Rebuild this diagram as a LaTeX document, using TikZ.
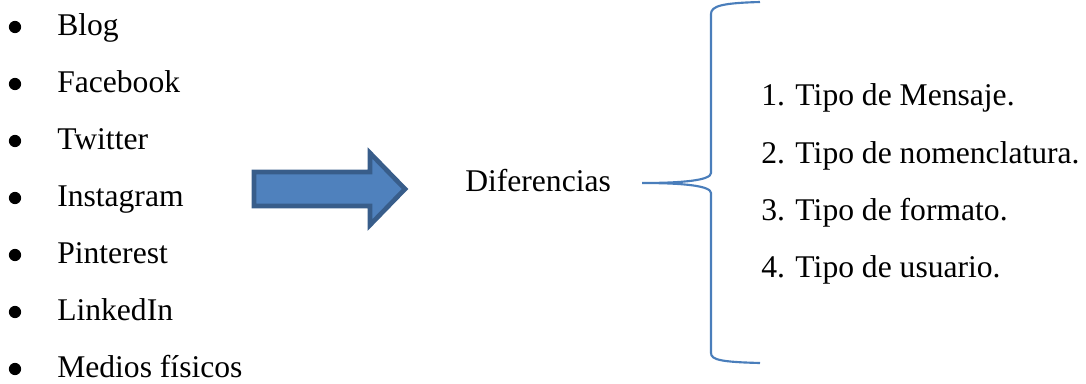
\documentclass[tikz,border=0pt]{standalone}
\usepackage{fontspec}
\setmainfont{Liberation Serif}
\definecolor{arrowfill}{HTML}{4F81BD}
\definecolor{arrowline}{HTML}{385D8A}
\definecolor{braceline}{HTML}{4A7EBB}
\tikzset{
  item/.style={anchor=base west, inner sep=0pt, font=\fontsize{23.7}{28}\selectfont},
  dot/.style={fill=black},
}
\begin{document}
\begin{tikzpicture}[x=0.75pt, y=-0.75pt]
\useasboundingbox (0,0) rectangle (1086,383);
%list
	\foreach \y/\name/\txt in {35/blog/Blog, 92/facebook/Facebook, 149/twitter/Twitter, 206/instagram/Instagram, 263/pinterest/Pinterest, 320/linkedin/LinkedIn, 377/medios/Medios físicos}{
		\fill[dot] (15, \y - 8) circle (4.6pt);
		\node[item] (\name) at (57, \y) {\txt};
	}

%arrow
	\draw[arrowline, fill=arrowfill, line width=3.5pt, line join=miter]
		(254, 172) -- (370, 172) -- (370, 153) -- (405, 189) -- (370, 225) -- (370, 206) -- (254, 206) -- cycle;

%middle
	\node[item] (dif) at (465, 191) {Diferencias};

%brace
	\draw[braceline, line width=1.6pt]
		(760, 2) .. controls (722, 3) and (711, 6) .. (711, 14) -- (711, 173)
		.. controls (711, 180) and (685, 183) .. (642, 183)
		.. controls (685, 183) and (711, 186) .. (711, 193) -- (711, 353)
		.. controls (711, 360) and (722, 362) .. (760, 363);

%types
	\foreach \y/\name/\txt in {105/t1/1. Tipo de Mensaje., 163/t2/2. Tipo de nomenclatura., 220/t3/3. Tipo de formato., 277/t4/4. Tipo de usuario.}{
		\node[item] (\name) at (761, \y) {\txt};
	}
\end{tikzpicture}
\end{document}
